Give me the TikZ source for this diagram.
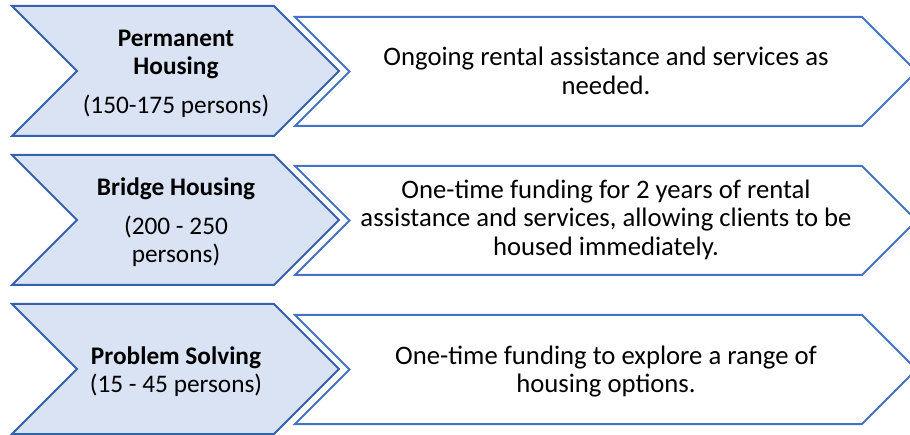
\documentclass[tikz,border=0pt]{standalone}
\usepackage{fontspec}
\setmainfont{Carlito}
\usetikzlibrary{positioning}
\definecolor{stepfill}{HTML}{DAE3F3}
\definecolor{stepline}{HTML}{3560AC}
\definecolor{goalline}{HTML}{4472C4}
\tikzset{
  stepshape/.style={draw=stepline, fill=stepfill, line width=2pt, line join=miter},
  goalshape/.style={draw=goalline, fill=white, line width=2pt, line join=miter},
  steptext/.style={align=center, font=\fontsize{25.3}{28}\selectfont, inner sep=0pt},
  goaltext/.style={align=center, font=\fontsize{26.7}{28.5}\selectfont, inner sep=0pt}
}

\begin{document}
\begin{tikzpicture}[x=1pt, y=-1pt]
          \useasboundingbox (0,0) rectangle (910,435);
          % chevrons, one row every 149
          \foreach \t in {6, 155, 304}{
            \draw[stepshape] (12,\t) -- (274,\t) -- (339,\t+65) -- (274,\t+130) -- (12,\t+130) -- (77,\t+65) -- cycle;
            \draw[goalshape] (295,\t+11) -- (862,\t+11) -- (916.5,\t+65.5) -- (862,\t+120) -- (295,\t+120) -- (349.5,\t+65.5) -- cycle;
          }
          % left texts
          \node[steptext] (permanent) at (176,54) {\textbf{Permanent}\\\textbf{Housing}};
          \node[steptext] (permanentnum) at (176,106) {(150-175 persons)};
          \node[steptext] (bridge) at (176,189) {\textbf{Bridge Housing}};
          \node[steptext] (bridgenum) at (176,241) {(200 - 250\\persons)};
          \node[steptext] (problem) at (176,371.5) {\textbf{Problem Solving}\\(15 - 45 persons)};
          % right texts
          \node[goaltext] (permanentgoal) at (606,71) {Ongoing rental assistance and services as\\needed.};
          \node[goaltext] (bridgegoal) at (606,219.5) {One-time funding for 2 years of rental\\assistance and services, allowing clients to be\\housed immediately.};
          \node[goaltext] (problemgoal) at (606,371.5) {One-time funding to explore a range of\\housing options.};
        \end{tikzpicture}
\end{document}
